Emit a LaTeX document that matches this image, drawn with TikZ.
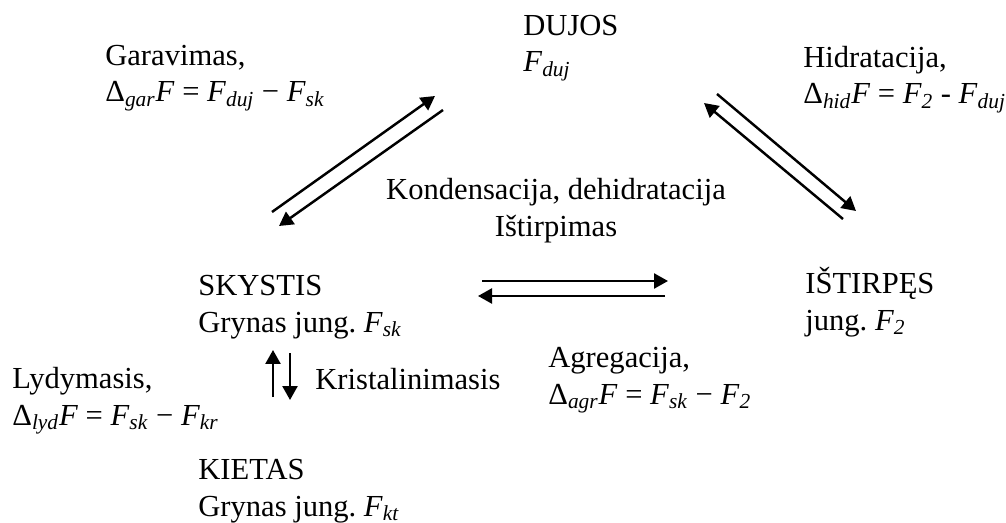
\documentclass[tikz,border=0pt]{standalone}
\usepackage{fontspec}
\setmainfont{Liberation Serif}
\usepackage{tikz}
\usetikzlibrary{positioning,arrows.meta}
\tikzset{}
\newcommand{\fsub}[1]{\textit{F}\textsubscript{\textit{#1}}}

\begin{document}
\begin{tikzpicture}[x=0.02cm,y=-0.02cm]
            \tikzset{
                ph node/.style={anchor=base west,inner sep=0,align=left,font=\fontsize{17.4}{20.5}\selectfont},
                ph arrow/.style={draw,line width=1.4pt,-{Triangle[length=0.28cm,width=0.3cm]}}
            }
            \useasboundingbox (0,0) rectangle (1006,523);
            \node[ph node] (duj) at (523, 72) {DUJOS\\\fsub{duj}};
            \node[ph node] (gar) at (105, 102) {Garavimas,\\Δ\textsubscript{\textit{gar}}\textit{F} = \fsub{duj} − \fsub{sk}};
            \node[ph node] (hid) at (803, 104) {Hidratacija,\\Δ\textsubscript{\textit{hid}}\textit{F} = \fsub{2} - \fsub{duj}};
            \node[ph node,anchor=base,align=center] (kond) at (556, 236) {Kondensacija, dehidratacija\\Ištirpimas};
            \node[ph node] (sk) at (198, 332) {SKYSTIS\\Grynas jung.\ \fsub{sk}};
            \node[ph node] (ist) at (805, 330) {IŠTIRPĘS\\jung.\ \fsub{2}};
            \node[ph node] (krist) at (315, 389) {Kristalinimasis};
            \node[ph node] (lyd) at (12, 425) {Lydymasis,\\Δ\textsubscript{\textit{lyd}}\textit{F} = \fsub{sk} − \fsub{kr}};
            \node[ph node] (agr) at (548, 404) {Agregacija,\\Δ\textsubscript{\textit{agr}}\textit{F} = \fsub{sk} − \fsub{2}};
            \node[ph node] (kiet) at (198, 516) {KIETAS\\Grynas jung.\ \fsub{kt}};
            \coordinate (g1) at (272, 212); \coordinate (g2) at (435, 96);
            \coordinate (k1) at (443, 110); \coordinate (k2) at (279, 226);
            \coordinate (h1) at (717, 94);  \coordinate (h2) at (856, 211);
            \coordinate (h3) at (843, 219); \coordinate (h4) at (704, 103);
            \coordinate (a1) at (482, 281); \coordinate (a2) at (668, 281);
            \coordinate (a3) at (665, 296); \coordinate (a4) at (478, 296);
            \coordinate (v1) at (273, 397); \coordinate (v2) at (273, 350);
            \coordinate (v3) at (290, 353); \coordinate (v4) at (290, 400);
            \path[ph arrow] (g1) -- (g2);
            \path[ph arrow] (k1) -- (k2);
            \path[ph arrow] (h1) -- (h2);
            \path[ph arrow] (h3) -- (h4);
            \path[ph arrow] (a1) -- (a2);
            \path[ph arrow] (a3) -- (a4);
            \path[ph arrow] (v1) -- (v2);
            \path[ph arrow] (v3) -- (v4);
        \end{tikzpicture}
\end{document}
